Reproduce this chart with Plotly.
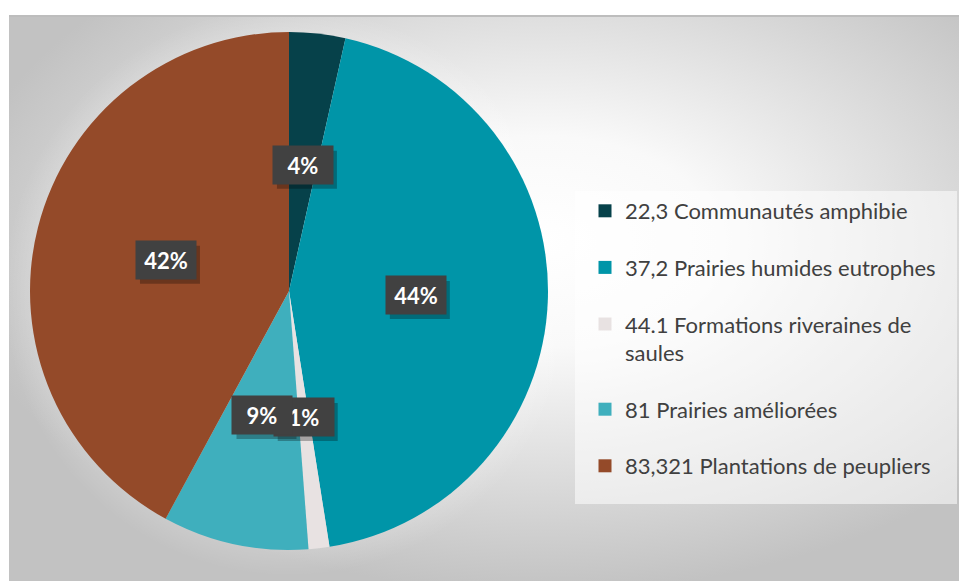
import base64
import math
import plotly.graph_objects as go

# ---- data ----
categories = [
    "22,3 Communautés amphibie",
    "37,2 Prairies humides eutrophes",
    "44.1 Formations riveraines de<br>saules",
    "81 Prairies améliorées",
    "83,321 Plantations de peupliers",
]
values = [3.5, 44.0, 1.3, 9.1, 42.1]
colors = ["#06414a", "#0095a8", "#e8e2e2", "#3fafbd", "#944a29"]

W, H = 959, 581
# pie geometry (px)
CX, CY, R = 289, 291, 259

# ---- background gradient as an svg image ----
bw, bh = W - 9, H - 15
svg = f"""<svg xmlns='http://www.w3.org/2000/svg' width='{bw}' height='{bh}' viewBox='0 0 {bw} {bh}' preserveAspectRatio='none'>
<defs>
<radialGradient id='g' cx='0.56' cy='0.4' r='0.62' gradientUnits='objectBoundingBox'>
<stop offset='0' stop-color='#ffffff'/><stop offset='0.3' stop-color='#f9f9f9'/><stop offset='1' stop-color='#c2c2c2'/>
</radialGradient>
<radialGradient id='h' cx='{CX-9}' cy='{CY-15}' r='285' gradientUnits='userSpaceOnUse'>
<stop offset='0.9' stop-color='#ffffff' stop-opacity='0.15'/><stop offset='1' stop-color='#ffffff' stop-opacity='0'/>
</radialGradient>
</defs>
<rect x='0' y='0' width='{bw}' height='{bh}' fill='url(#g)'/>
<circle cx='{CX-9}' cy='{CY-15}' r='285' fill='url(#h)'/>
<rect x='0' y='0' width='{bw}' height='2' fill='#bdbdbd'/>
</svg>"""
src = "data:image/svg+xml;base64," + base64.b64encode(svg.encode()).decode()

fig = go.Figure()
fig.add_trace(go.Pie(
    labels=categories,
    values=values,
    sort=False,
    direction="clockwise",
    rotation=0,
    marker=dict(colors=colors, line=dict(width=0)),
    textinfo="none",
    hoverinfo="label+percent",
    showlegend=False,
    domain=dict(x=[(CX - R) / W, (CX + R) / W], y=[1 - (CY + R) / H, 1 - (CY - R) / H]),
))

# legend entries
for i, (name, c) in enumerate(zip(categories, colors)):
    fig.add_trace(go.Scatter(
        x=[None], y=[None], mode="markers", name=name,
        marker=dict(symbol="square", size=13, color=c),
        legendgroup=str(i), showlegend=True,
    ))

# legend panel
shapes = [dict(type="rect", xref="paper", yref="paper",
               x0=575 / W, x1=957 / W, y0=1 - 504 / H, y1=1 - 191 / H,
               fillcolor="rgba(255,255,255,0.55)", line=dict(width=0), layer="below")]

# percentage labels in dark boxes (with a soft drop shadow drawn as a shape)
BOX_W, BOX_H = 60, 38
total = sum(values)
cum = 0.0
annotations = []
for v in values:
    frac = v / total
    mid = (cum + frac / 2) * 2 * math.pi
    cum += frac
    px = CX + 0.49 * R * math.sin(mid)
    py = CY - 0.49 * R * math.cos(mid)
    txt = f"{round(frac * 100):d}%"
    shapes.append(dict(type="rect", xref="paper", yref="paper",
                       x0=(px - BOX_W / 2 + 4) / W, x1=(px + BOX_W / 2 + 4) / W,
                       y0=1 - (py + BOX_H / 2 + 5) / H, y1=1 - (py - BOX_H / 2 + 5) / H,
                       fillcolor="rgba(0,0,0,0.28)", line=dict(width=0), layer="above"))
    annotations.append(dict(x=px / W, y=1 - py / H, xref="paper", yref="paper", showarrow=False,
                            text=f"<b>{txt}</b>", width=BOX_W - 12, height=BOX_H - 12, borderpad=6,
                            xanchor="center", yanchor="middle", bgcolor="#414141",
                            font=dict(family="Lato", size=22, color="#ffffff")))

fig.update_layout(
    width=W, height=H,
    margin=dict(l=0, r=0, t=0, b=0),
    paper_bgcolor="#ffffff",
    plot_bgcolor="rgba(0,0,0,0)",
    xaxis=dict(visible=False),
    yaxis=dict(visible=False),
    images=[dict(source=src, xref="paper", yref="paper", x=9 / W, y=1 - 15 / H,
                 sizex=bw / W, sizey=bh / H, sizing="stretch", layer="below",
                 xanchor="left", yanchor="top")],
    shapes=shapes,
    annotations=annotations,
    legend=dict(
        x=585 / W, y=1 - 190 / H, xanchor="left", yanchor="top",
        bgcolor="rgba(0,0,0,0)", borderwidth=0,
        font=dict(family="Lato", size=22, color="#404040"),
        tracegroupgap=25, valign="top", entrywidth=340,
        itemclick=False, itemdoubleclick=False,
    ),
    showlegend=True,
)

fig.write_html("out.html", config={"displayModeBar": False},
               post_script="document.body.style.margin='0';")
